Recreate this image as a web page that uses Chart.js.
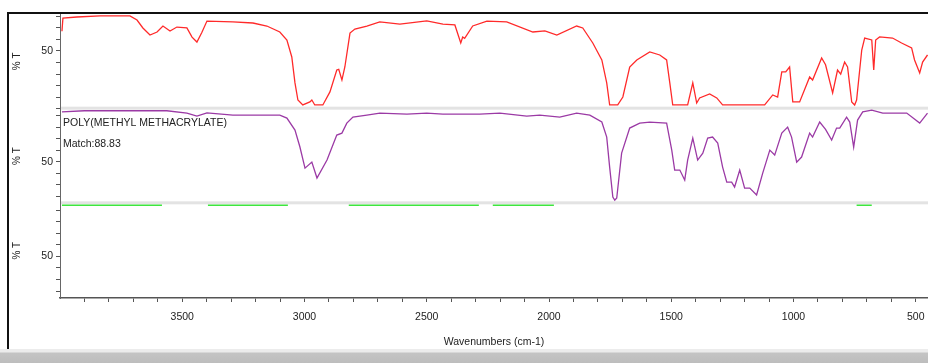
<!DOCTYPE html>
<html>
<head>
<meta charset="utf-8">
<script src="https://cdn.jsdelivr.net/npm/chart.js@4.4.0/dist/chart.umd.min.js"></script>
<style>
  body { margin: 0; background: #fff; }
  #wrap { position: relative; width: 928px; height: 363px; overflow: hidden; }
  #ir-chart { position: absolute; left: 0; top: 0; }
  .frame-left { position: absolute; left: 7px; top: 12px; width: 2px; height: 338px; background: #111; }
  .frame-top { position: absolute; left: 7px; top: 12px; width: 921px; height: 2px; background: #111; }
  .bottom-bar { position: absolute; left: 0; top: 349px; width: 928px; height: 14px;
    background: linear-gradient(#ececec 0, #ececec 3px, #c4c4c4 4px, #bdbdbd 100%); }
</style>
</head>
<body>
<div id="wrap">
  <canvas id="ir-chart" width="928" height="363"></canvas>
  <div class="frame-left"></div>
  <div class="frame-top"></div>
  <div class="bottom-bar"></div>
</div>
<script>
/// ------------- DATA --------------- ///

// sample spectrum (top panel, red)
const sampleWn = [3992, 3988, 3931, 3836, 3714, 3685, 3661, 3632, 3603, 3579, 3550, 3522, 3481, 3460, 3440,
    3420, 3399, 3293, 3211, 3154, 3101, 3072, 3052, 3039, 3027, 3007, 2978, 2970, 2958, 2925, 2896, 2868,
    2860, 2847, 2835, 2814, 2794, 2745, 2692, 2610, 2500, 2434, 2385, 2361, 2353, 2345, 2312, 2254, 2173,
    2066, 2017, 1968, 1887, 1862, 1821, 1784, 1764, 1752, 1719, 1698, 1670, 1641, 1588, 1547, 1519, 1506,
    1494, 1433, 1412, 1396, 1384, 1343, 1314, 1290, 1118, 1085, 1065, 1048, 1032, 1016, 1003, 975, 934,
    922, 885, 869, 840, 820, 807, 791, 779, 762, 750, 742, 721, 709, 680, 672, 664, 648, 595, 558, 517,
    505, 484, 472, 452];
const sampleT = [67, 78.5, 79.4, 80.3, 80.3, 76.8, 69.9, 63.8, 66.4, 71.6, 67.3, 70.7, 70, 62, 57.7,
    66, 75.9, 75.1, 74.2, 71.6, 66.4, 59.5, 44.8, 22.3, 7.5, 3.2, 5.8, 7.5, 3.2, 3.2, 14.5, 33.5,
    34, 24.8, 36.1, 65.5, 69, 71.6, 75.1, 73.3, 76, 73.3, 72.5, 56.9, 62.1, 61, 71.6, 75.9, 75.1,
    66.4, 67.3, 63.8, 71.6, 69.9, 56.9, 42.2, 22.3, 3.2, 3.2, 10.1, 36.1, 42.2, 49.1, 46.5, 42.2, 22.3,
    3.2, 3.2, 22.3, 4.9, 9.3, 12.7, 9.3, 3.2, 3.2, 11.9, 10.1, 31.8, 31.8, 36.1, 5.8, 5.8, 27.4,
    24.8, 43.9, 38, 13.6, 33.5, 30, 40.4, 36.1, 5.8, 3.2, 7.5, 50.8, 61.2, 59.5, 33.5, 59.5, 62.1, 61.2, 56.9, 52.6,
    42.2, 30.9, 40.4, 46.5];

// library match (middle panel, purple)
const matchWn = [3992, 3900, 3800, 3700, 3563, 3481, 3440, 3399, 3293, 3101, 3072, 3039, 3019, 2998, 2970,
    2949, 2908, 2868, 2847, 2827, 2802, 2745, 2692, 2581, 2500, 2434, 2353, 2283, 2201, 2091, 2038, 1956,
    1887, 1833, 1784, 1764, 1752, 1739, 1731, 1723, 1703, 1670, 1629, 1588, 1519, 1498, 1486, 1465, 1445,
    1433, 1412, 1392, 1371, 1351, 1331, 1310, 1290, 1273, 1253, 1241, 1220, 1200, 1179, 1151, 1126, 1097,
    1077, 1048, 1024, 1008, 987, 967, 934, 922, 893, 869, 844, 824, 811, 783, 770, 754, 738, 717, 680,
    635, 595, 537, 484, 452];
const matchT = [93.3, 94.2, 94.2, 94.2, 94.2, 92.2, 89.6, 92.4, 90.4, 90.4, 87.8, 77.4, 63, 44.5, 49.7,
    35.9, 51.5, 73.1, 74.8, 83.5, 88.7, 90.4, 92.2, 91.3, 92.2, 91.3, 91.3, 91.3, 92.2, 89.6, 90.4, 88.7,
    92.2, 90.4, 84.4, 71.4, 45.4, 19.4, 16.8, 18.6, 57.5, 79.2, 83.5, 84.4, 83.5, 60.1, 42.8, 42.8, 34.2,
    51.5, 70.5, 51.5, 57.5, 70.5, 71.4, 66.2, 45.4, 32.4, 32.4, 28.1, 42.8, 27.2, 27.2, 21.2, 40.2, 60.1,
    55.8, 74.8, 80, 71.4, 49.7, 54.1, 74.8, 71.4, 84.4, 78, 68.8, 79.2, 79.2, 88.7, 84.4, 62.7, 86.1, 93.3, 94.8,
    92.2, 92.2, 92.2, 83.5, 92.2];

// residual (bottom panel, green) - mostly off scale, null = gap
const residWn = [3992, 3583, 3500, 3395, 3068, 2950, 2819, 2287, 2260, 2230, 1980, 900, 742, 680];
const residT = [94.3, 94.3, null, 94.3, 94.3, null, 94.3, 94.3, null, 94.3, 94.3, null, 94.3, 94.3];

// x tick marks every 100, labels every 500
const xTickValues = [];
for (let v = 500; v <= 3900; v += 100) xTickValues.push(v);
const xMajorStep = 500;

const matchName = "POLY(METHYL METHACRYLATE)";
const matchScore = "Match:88.83";

/// ------------- CHART --------------- ///

const FONT = "'Liberation Sans', Arial, sans-serif";
const TEXT = '#222';
const toPoints = (xs, ys) => xs.map((x, i) => ({ x: x, y: ys[i] }));

function panelAxis(min, max) {
    return {
        type: 'linear',
        position: 'left',
        stack: 'ir',
        stackWeight: 1,
        min: min,
        max: max,
        border: { color: '#666', width: 1 },
        grid: { drawOnChartArea: false, drawTicks: true, tickLength: 4, color: '#555' },
        title: { display: true, text: '% T', color: TEXT, font: { family: FONT, size: 10 }, padding: { top: 3, bottom: 0 } },
        ticks: {
            autoSkip: false,
            color: TEXT,
            padding: 3,
            font: { family: FONT, size: 10.5 },
            callback: v => v === 50 ? '50' : ''
        },
        afterBuildTicks: s => {
            const t = [];
            for (let v = Math.ceil(min / 10) * 10; v <= max; v += 10) t.push({ value: v });
            s.ticks = t;
        },
        afterFit: s => { s.width = 52; }
    };
}

const panelPlugin = {
    id: 'panels',
    beforeDatasetsDraw(chart) {
        const { ctx, chartArea, scales } = chart;
        ctx.save();
        ctx.fillStyle = '#e3e3e3';
        [scales.yR.bottom, scales.yP.bottom].forEach(y => {
            ctx.fillRect(chartArea.left + 1, y - 2, chartArea.right - chartArea.left, 3);
        });
        ctx.restore();
    },
    afterDatasetsDraw(chart) {
        const { ctx, chartArea, scales } = chart;
        ctx.save();
        ctx.fillStyle = TEXT;
        ctx.font = '10.5px ' + FONT;
        ctx.textBaseline = 'middle';
        ctx.fillText(matchName, chartArea.left + 3, scales.yP.top + 14);
        ctx.fillText(matchScore, chartArea.left + 3, scales.yP.top + 35);
        ctx.restore();
    }
};

new Chart(document.getElementById('ir-chart'), {
    type: 'line',
    data: {
        datasets: [
            {
                data: toPoints(sampleWn, sampleT),
                yAxisID: 'yR',
                borderColor: '#ff2a2a',
                borderWidth: 1.3,
                pointRadius: 0
            },
            {
                data: toPoints(matchWn, matchT),
                yAxisID: 'yP',
                borderColor: '#9b3aa5',
                borderWidth: 1.3,
                pointRadius: 0
            },
            {
                data: toPoints(residWn, residT),
                yAxisID: 'yG',
                borderColor: '#3ee63e',
                borderWidth: 1.6,
                pointRadius: 0,
                spanGaps: false
            }
        ]
    },
    options: {
        responsive: false,
        animation: false,
        devicePixelRatio: 1,
        layout: { padding: { left: 8, top: 14, right: 0, bottom: 13 } },
        plugins: {
            legend: { display: false },
            tooltip: { enabled: false }
        },
        scales: {
            x: {
                type: 'linear',
                reverse: true,
                min: 450,
                max: 4000,
                border: { color: '#555', width: 1.5 },
                grid: { drawOnChartArea: false, drawTicks: true, tickLength: 4, color: '#555' },
                ticks: {
                    autoSkip: false,
                    maxRotation: 0,
                    color: TEXT,
                    padding: 9,
                    font: { family: FONT, size: 10.5 },
                    callback: v => (v % xMajorStep === 0) ? String(v) : ''
                },
                afterBuildTicks: s => { s.ticks = xTickValues.map(v => ({ value: v })); },
                title: {
                    display: true,
                    text: 'Wavenumbers (cm-1)',
                    color: TEXT,
                    font: { family: FONT, size: 10.5 },
                    padding: { top: 4, bottom: 2 }
                },
                afterFit: s => { s.height = 52; }
            },
            yG: panelAxis(14, 96),
            yP: panelAxis(14, 96),
            yR: panelAxis(0, 82)
        }
    },
    plugins: [panelPlugin]
});
</script>
</body>
</html>
